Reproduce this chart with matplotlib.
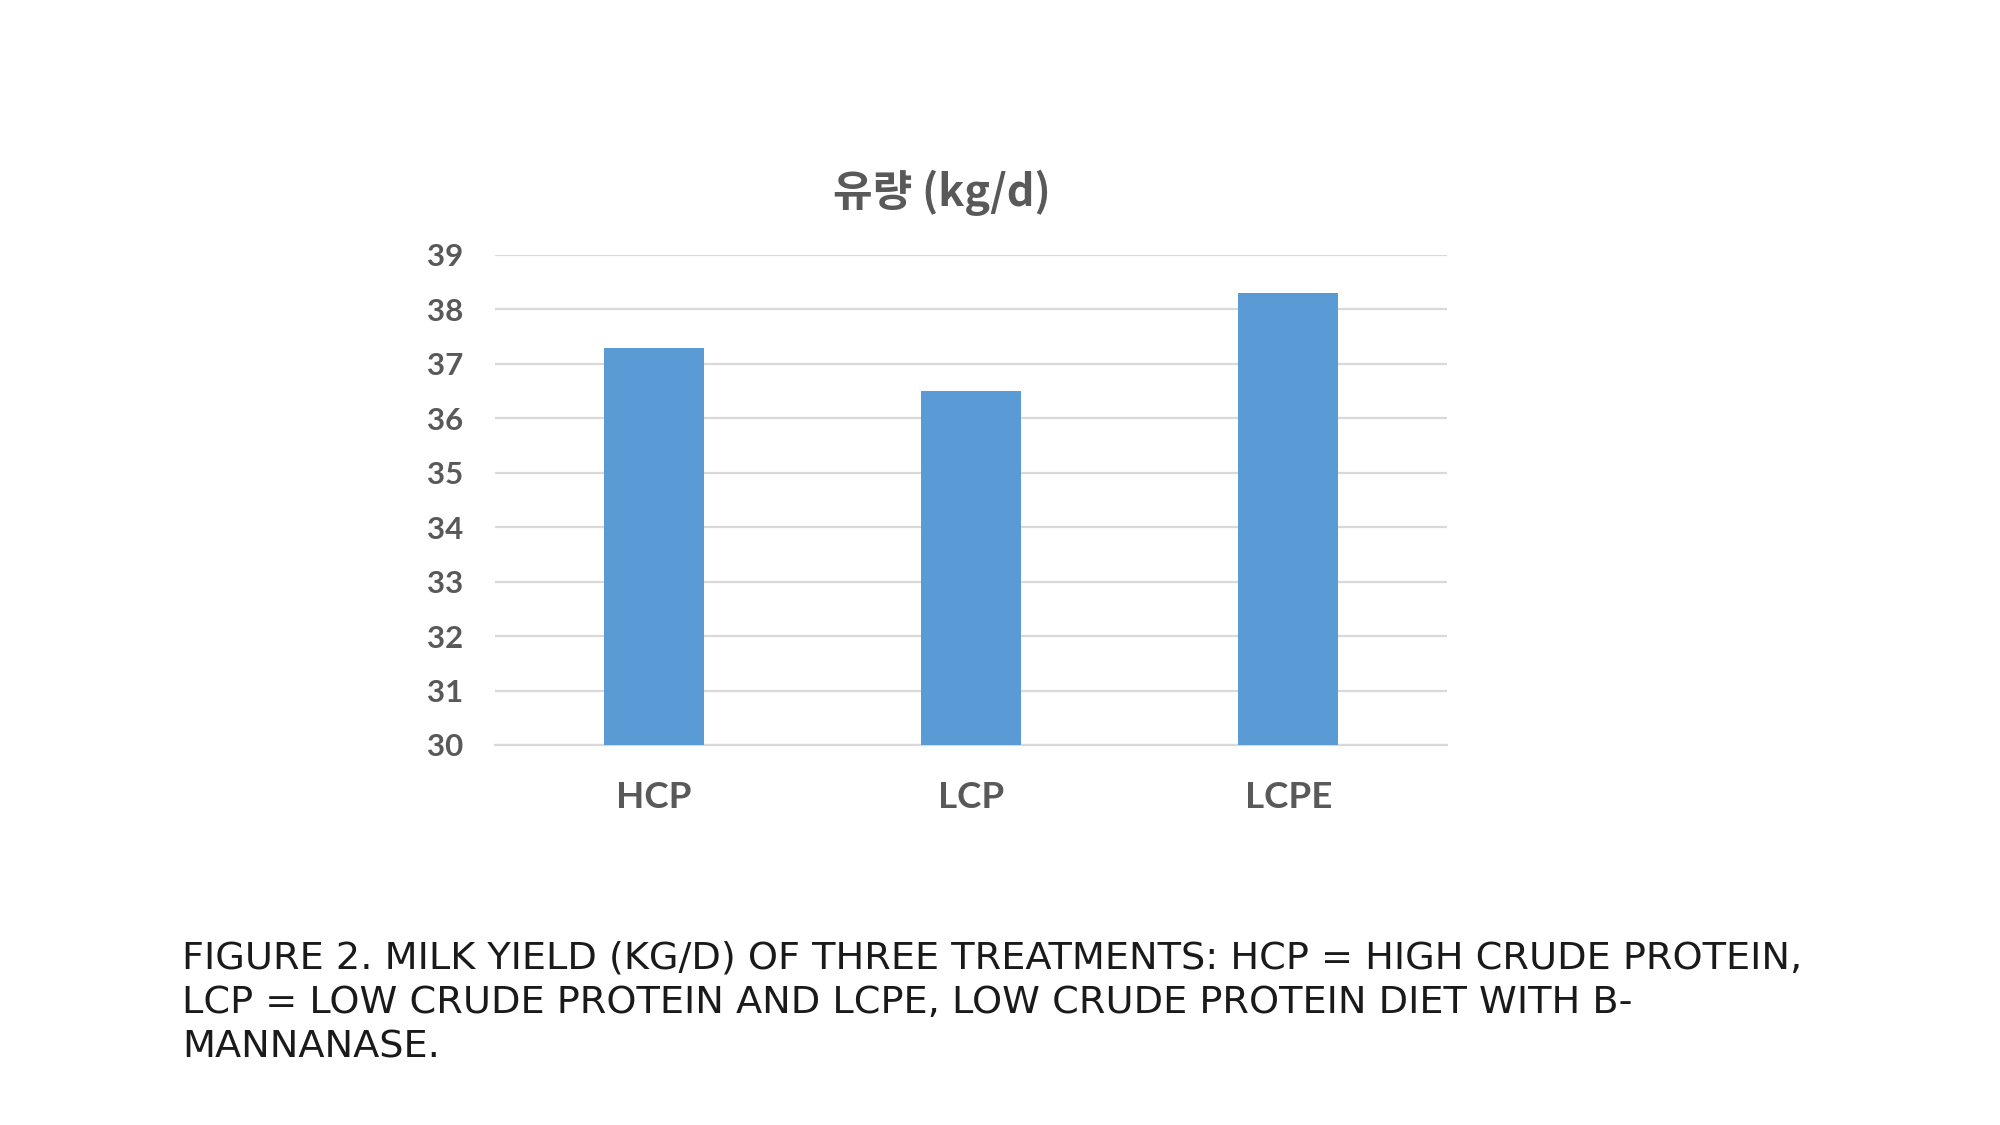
import matplotlib
matplotlib.use("Agg")
import matplotlib.pyplot as plt
import numpy as np

# Data
categories = ["HCP", "LCP", "LCPE"]
milk_yield = [37.3, 36.5, 38.3]
y_ticks = [30, 31, 32, 33, 34, 35, 36, 37, 38, 39]
title = "유량 (kg/d)"
caption_lines = [
    "FIGURE 2. MILK YIELD (KG/D) OF THREE TREATMENTS: HCP = HIGH CRUDE PROTEIN,",
    "LCP = LOW CRUDE PROTEIN AND LCPE, LOW CRUDE PROTEIN DIET WITH B-",
    "MANNANASE.",
]

TEXT_GRAY = "#595959"
BAR_BLUE = "#5B9BD5"
GRID = "#D9D9D9"

fig = plt.figure(figsize=(20, 11.25), dpi=100)
fig.patch.set_facecolor("white")

ax = fig.add_axes([495 / 2000, 1 - 745 / 1125, 952 / 2000, 490 / 1125])
x = np.arange(len(categories))
ax.bar(x, milk_yield, width=0.315, color=BAR_BLUE, zorder=3)

ax.set_xlim(-0.5, len(categories) - 0.5)
ax.set_ylim(y_ticks[0], y_ticks[-1])
ax.set_yticks(y_ticks)
ax.set_xticks(x)
ax.set_xticklabels(categories)

for s in ax.spines.values():
    s.set_visible(False)
ax.yaxis.grid(True, color=GRID, linewidth=1.6, zorder=0)
ax.set_axisbelow(True)
ax.tick_params(axis="y", length=0, pad=23, labelsize=22.5, labelcolor=TEXT_GRAY)
ax.tick_params(axis="x", length=0, pad=26, labelsize=26.5, labelcolor=TEXT_GRAY)
for lab in ax.get_yticklabels() + ax.get_xticklabels():
    lab.set_fontfamily(["Lato", "DejaVu Sans"])
    lab.set_fontweight("bold")

# the 30 gridline sits on the axis bottom; make sure it's drawn
ax.axhline(y_ticks[0], color=GRID, linewidth=1.6, zorder=0, clip_on=False)

fig.text(942 / 2000, 1 - 206 / 1125, title, ha="center", va="baseline",
         fontsize=31, fontweight="bold", color=TEXT_GRAY,
         family=["Noto Sans CJK KR", "DejaVu Sans"])

baselines = [968, 1013, 1058]
for line, b in zip(caption_lines, baselines):
    fig.text(182 / 2000, 1 - b / 1125, line, ha="left", va="baseline",
             fontsize=27.5, color="#1a1a1a", family=["DejaVu Sans"])

fig.savefig("out.png", dpi=100, facecolor="white")
